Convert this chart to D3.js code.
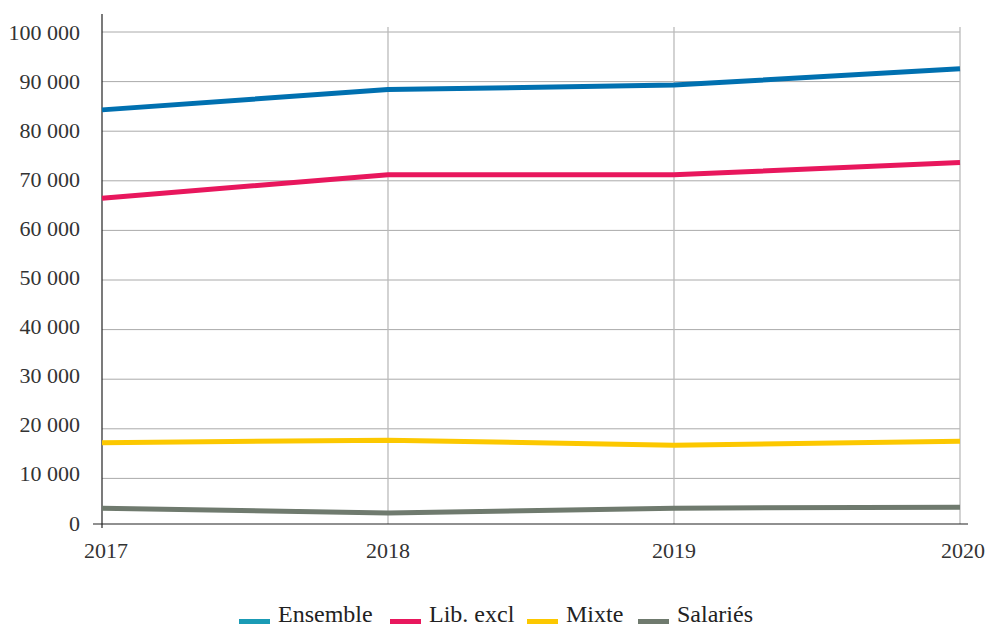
<!DOCTYPE html>
<html>
<head>
<meta charset="utf-8">
<script src="https://cdn.jsdelivr.net/npm/d3@7"></script>
<style>
  body { margin: 0; background: #fff; }
</style>
</head>
<body>
<script>
// data
var years = [2017, 2018, 2019, 2020];
var ensemble = [84300, 88400, 89300, 92600];
var libExcl = [66500, 71200, 71200, 73700];
var mixte = [17200, 17700, 16700, 17500];
var salaries = [4000, 3000, 4000, 4200];
var yTicks = [0, 10000, 20000, 30000, 40000, 50000, 60000, 70000, 80000, 90000, 100000];
var names = ["Ensemble", "Lib. excl", "Mixte", "Salariés"];

var series = [
  {name: names[0], values: ensemble, color: "#0070b0", legend: "#1a9bb5"},
  {name: names[1], values: libExcl, color: "#e8175d", legend: "#e8175d"},
  {name: names[2], values: mixte, color: "#fcc800", legend: "#fcc800"},
  {name: names[3], values: salaries, color: "#6f7a6e", legend: "#6f7a6e"}
];

var serif = "'Liberation Serif'";

var svg = d3.select("body").append("svg")
  .attr("width", 989)
  .attr("height", 626);

var x = d3.scaleLinear().domain([2017, 2020]).range([102, 960]);
var y = d3.scaleLinear().domain([0, 100000]).range([528, 32]);
// tick labels sit on a slightly tighter spacing than the gridlines
var yLab = d3.scaleLinear().domain([0, 100000]).range([523.5, 33]);

var fmt = function(d) { return d3.format(",")(d).replace(/,/g, " "); };

// horizontal gridlines
svg.append("g").selectAll("line")
  .data(yTicks.slice(1))
  .join("line")
  .attr("x1", 102).attr("x2", 960)
  .attr("y1", d => y(d)).attr("y2", d => y(d))
  .attr("stroke", "#aaa").attr("stroke-width", 1);

// vertical gridlines
svg.append("g").selectAll("line")
  .data(years.slice(1))
  .join("line")
  .attr("x1", d => x(d)).attr("x2", d => x(d))
  .attr("y1", 27).attr("y2", 524)
  .attr("stroke", "#bbb").attr("stroke-width", 1.3);

// y axis labels
svg.append("g").selectAll("text")
  .data(yTicks)
  .join("text")
  .attr("x", 80)
  .attr("y", d => yLab(d) + 7)
  .attr("text-anchor", "end")
  .attr("fill", "#333")
  .style("font-family", serif)
  .style("font-size", "22px")
  .text(fmt);

// x axis labels
svg.append("g").selectAll("text")
  .data(years)
  .join("text")
  .attr("x", (d, i) => x(d) + (i == 0 ? 4 : i == 3 ? 3 : 0))
  .attr("y", 558)
  .attr("text-anchor", "middle")
  .attr("fill", "#333")
  .style("font-family", serif)
  .style("font-size", "22px")
  .text(d => d);

// axes lines
svg.append("line")
  .attr("x1", 102).attr("x2", 102).attr("y1", 14).attr("y2", 528)
  .attr("stroke", "#222").attr("stroke-width", 1.2);
svg.append("line")
  .attr("x1", 93).attr("x2", 968).attr("y1", 524).attr("y2", 524)
  .attr("stroke", "#222").attr("stroke-width", 1.2);

// lines
var line = d3.line()
  .x((d, i) => x(years[i]))
  .y(d => y(d));

svg.append("g").selectAll("path")
  .data(series)
  .join("path")
  .attr("d", d => line(d.values))
  .attr("fill", "none")
  .attr("stroke", d => d.color)
  .attr("stroke-width", 5);

// legend
var legendX = [239, 390, 527, 638];
var lg = svg.append("g").selectAll("g")
  .data(series)
  .join("g")
  .attr("transform", (d, i) => "translate(" + legendX[i] + ",0)");

lg.append("rect")
  .attr("x", 0).attr("y", 619)
  .attr("width", 31).attr("height", 5)
  .attr("fill", d => d.legend);

lg.append("text")
  .attr("x", 39).attr("y", 622)
  .attr("fill", "#222")
  .style("font-family", serif)
  .style("font-size", "24px")
  .text(d => d.name);
</script>
</body>
</html>
